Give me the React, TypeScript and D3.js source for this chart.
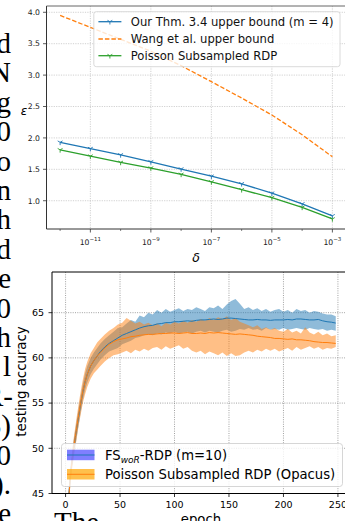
import React from "react";
import * as d3 from "d3";

// ---- top chart: epsilon vs delta ----
const deltas = [1e-12, 1e-11, 1e-10, 1e-9, 1e-8, 1e-7, 1e-6, 1e-5, 1e-4, 1e-3];
const thmBound = [1.93, 1.83, 1.73, 1.62, 1.505, 1.39, 1.27, 1.12, 0.95, 0.76];
const wangBound = [3.95, 3.76, 3.57, 3.38, 3.15, 2.895, 2.635, 2.365, 2.05, 1.7];
const poissonRdp = [1.81, 1.71, 1.61, 1.52, 1.42, 1.3, 1.175, 1.05, 0.895, 0.71];
const deltaExps = [-11, -9, -7, -5, -3];
const deltaMinorExps = [-12, -10, -8, -6, -4];
const epsTicks = [1.0, 1.5, 2.0, 2.5, 3.0, 3.5, 4.0];
const topLegend = [
  "Our Thm. 3.4 upper bound (m = 4)",
  "Wang et al. upper bound",
  "Poisson Subsampled RDP",
];

// ---- bottom chart: testing accuracy vs epoch ----
const epochs = [
  0, 1, 2, 3, 4, 5, 6, 7, 8, 9, 10, 12, 14, 16, 18, 20, 23, 26, 29, 32, 36, 40, 44, 48,
  52, 56, 60, 64, 68, 72, 76, 80, 84, 88, 92, 96, 100, 104, 108, 112, 116, 120, 124, 128,
  132, 136, 140, 144, 148, 152, 156, 160, 164, 168, 172, 176, 180, 184, 188, 192, 196, 200,
  204, 208, 212, 216, 220, 224, 228, 232, 236, 240, 244, 248,
];
const fsMean = [
  34.0, 38.0, 41.6, 44.8, 46.3, 47.6, 48.7, 49.6, 50.4, 51.2, 52.0, 53.5, 55.0, 56.3, 57.4, 58.2, 59.1, 59.7, 60.2, 60.7, 61.2, 61.6, 61.9, 62.2,
  62.5, 62.7, 62.9, 63.1, 63.3, 63.45, 63.55, 63.6, 63.75, 63.8,
  63.9, 63.9, 64.0, 64.0, 64.05, 64.1, 64.05, 64.15, 64.2, 64.2,
  64.25, 64.3, 64.25, 64.3, 64.4, 64.4, 64.35, 64.3, 64.25, 64.2,
  64.2, 64.25, 64.2, 64.2, 64.15, 64.2, 64.2, 64.2, 64.25, 64.2,
  64.3, 64.3, 64.25, 64.2, 64.2, 64.25, 64.1, 64.0, 63.95, 63.85,
];
const fsHi = [
  34.8, 38.8, 42.4, 45.6, 47.1, 48.4, 49.5, 50.5, 51.3, 52.1, 52.9, 54.4, 55.9, 57.2, 58.3, 59.1, 60.0, 60.6, 61.1, 61.6, 62.1, 62.5, 62.9, 63.3,
  63.4, 63.8, 64.2, 64.0, 64.7, 64.5, 65.0, 64.8, 65.3, 65.0,
  65.4, 65.1, 65.3, 65.5, 65.2, 65.4, 65.3, 65.6, 65.4, 65.2,
  65.6, 65.5, 65.8, 65.4, 65.9, 66.3, 66.5, 66.0, 65.4, 65.6,
  65.3, 65.5, 65.2, 65.4, 65.1, 65.3, 65.4, 65.1, 65.3, 65.0,
  65.4, 65.2, 65.3, 65.0, 65.2, 65.1, 64.9, 64.8, 64.8, 64.6,
];
const fsLo = [
  33.2, 37.2, 40.8, 44.0, 45.5, 46.8, 47.9, 48.7, 49.5, 50.3, 51.1, 52.6, 54.1, 55.4, 56.5, 57.3, 58.2, 58.8, 59.3, 59.8, 60.3, 60.7, 60.9, 61.1,
  61.5, 61.7, 61.9, 62.2, 62.3, 62.5, 62.6, 62.5, 62.7, 62.6,
  62.8, 62.7, 62.9, 62.7, 62.8, 62.9, 62.7, 62.9, 63.0, 62.8,
  63.0, 62.9, 62.8, 63.0, 63.1, 62.9, 63.0, 63.2, 63.1, 63.3,
  63.1, 63.2, 63.0, 63.3, 63.1, 63.2, 63.1, 63.3, 63.1, 63.2,
  63.3, 63.2, 63.1, 63.3, 63.2, 63.1, 63.2, 63.0, 63.1, 63.0,
];
const poMean = [
  34.5, 38.3, 41.8, 44.6, 46.2, 47.5, 48.7, 49.6, 50.5, 51.3, 52.1, 53.7, 55.1, 56.4, 57.4, 58.2, 59.1, 59.7, 60.2, 60.6, 61.1, 61.5, 61.8, 62.0,
  62.1, 62.2, 62.35, 62.4, 62.5, 62.55, 62.6, 62.6, 62.65, 62.7,
  62.7, 62.75, 62.75, 62.7, 62.75, 62.8, 62.7, 62.7, 62.75, 62.7,
  62.8, 62.75, 62.8, 62.75, 62.7, 62.65, 62.6, 62.65, 62.6, 62.55,
  62.5, 62.4, 62.35, 62.3, 62.25, 62.15, 62.15, 62.1, 62.05, 62.1,
  62.0, 62.0, 61.95, 61.9, 61.8, 61.75, 61.7, 61.7, 61.65, 61.6,
];
const poHi = [
  35.3, 39.2, 42.7, 45.5, 47.1, 48.5, 49.7, 50.7, 51.6, 52.4, 53.3, 54.9, 56.4, 57.7, 58.8, 59.6, 60.5, 61.1, 61.7, 62.1, 62.6, 63.0, 63.3, 63.7,
  63.9, 64.4, 64.1, 63.8, 64.0, 63.7, 63.9, 63.6, 63.8, 63.5,
  63.9, 63.7, 64.0, 63.8, 64.1, 63.9, 64.2, 64.0, 64.3, 64.1,
  64.4, 64.2, 64.5, 64.3, 64.6, 64.2, 64.4, 64.0, 63.8, 63.6,
  63.4, 63.6, 63.2, 63.4, 63.1, 63.3, 63.0, 62.9, 63.2, 62.8,
  63.0, 62.7, 63.4, 62.8, 62.6, 62.9, 62.5, 62.7, 62.4, 62.5,
];
const poLo = [
  33.7, 37.4, 40.9, 43.7, 45.3, 46.5, 47.7, 48.5, 49.4, 50.2, 50.9, 52.5, 53.8, 55.1, 56.0, 56.8, 57.7, 58.3, 58.7, 59.1, 59.6, 60.0, 60.3, 60.4,
  60.6, 60.8, 60.5, 60.9, 60.7, 61.0, 60.8, 61.1, 61.2, 60.9,
  61.3, 61.0, 61.2, 61.4, 61.0, 61.2, 60.8, 60.6, 60.8, 60.4,
  60.7, 60.5, 60.3, 60.6, 60.2, 60.5, 60.2, 60.3, 60.6, 60.8,
  60.6, 60.9, 60.7, 61.0, 60.8, 61.0, 60.7, 60.9, 61.1, 60.8,
  61.2, 60.9, 61.1, 61.3, 61.0, 61.2, 60.9, 61.1, 61.0, 61.2,
];
const epochTicks = [0, 50, 100, 150, 200, 250];
const accTicks = [45, 50, 55, 60, 65];

// right-hand ends of the paper's text lines, cut by the page edge
const sideText = ["d", "N", "g", "0", "o", "n", "h", "d", "e", "0", "h", "l", "R-", ")", "0", ").", "e"];

const SANS = "DejaVu Sans";
const BLUE = "#1f77b4";
const ORANGE = "#ff7f0e";
const GREEN = "#2ca02c";

const triDown = (r: number) =>
  `M0,0L0,${r}M0,0L${-0.866 * r},${-0.5 * r}M0,0L${0.866 * r},${-0.5 * r}`;

const TopChart = () => {
  const x = d3.scaleLog().domain([10 ** -12.45, 10 ** -2.55]).range([46.5, 346]);
  const y = d3.scaleLinear().domain([0.55, 4.1]).range([229, 6]);
  const line = d3
    .line<number>()
    .x((_, i) => x(deltas[i]))
    .y((v) => y(v));
  const series = [
    { vals: thmBound, color: BLUE, dash: null, marker: true },
    { vals: wangBound, color: ORANGE, dash: "4.5,2", marker: false },
    { vals: poissonRdp, color: GREEN, dash: null, marker: true },
  ];
  const legendY = [21.7, 39, 55.7];
  return (
    <g fontFamily={SANS}>
      <defs>
        <clipPath id="clipTop">
          <rect x={46.5} y={6} width={300} height={223} />
        </clipPath>
      </defs>
      {/* grid */}
      {deltaExps.map((e) => (
        <line key={"gx" + e} x1={x(10 ** e)} x2={x(10 ** e)} y1={6} y2={229}
          stroke="#bdbdbd" strokeWidth={0.7} strokeDasharray="1.2,1.2" />
      ))}
      {epsTicks.map((t) => (
        <line key={"gy" + t} x1={46.5} x2={346} y1={y(t)} y2={y(t)}
          stroke="#bdbdbd" strokeWidth={0.7} strokeDasharray="1.2,1.2" />
      ))}
      {/* lines */}
      <g clipPath="url(#clipTop)">
        {series.map((s, k) => (
          <g key={k}>
            <path d={line(s.vals) || ""} fill="none" stroke={s.color} strokeWidth={1.3}
              strokeDasharray={s.dash || undefined} />
            {s.marker &&
              s.vals.map((v, i) => (
                <path key={i} d={triDown(2.8)} transform={`translate(${x(deltas[i])},${y(v)})`}
                  stroke={s.color} strokeWidth={0.9} fill="none" />
              ))}
          </g>
        ))}
      </g>
      {/* spines */}
      <line x1={46.5} x2={46.5} y1={6} y2={229} stroke="#333" strokeWidth={1} />
      <line x1={46.5} x2={346} y1={229} y2={229} stroke="#333" strokeWidth={1} />
      <line x1={46.5} x2={346} y1={6} y2={6} stroke="#555" strokeWidth={0.9} />
      {/* x ticks */}
      {deltaExps.map((e) => (
        <g key={"tx" + e}>
          <line x1={x(10 ** e)} x2={x(10 ** e)} y1={229} y2={232.5} stroke="#333" strokeWidth={0.8} />
          <text x={x(10 ** e)} y={245} textAnchor="middle" fontSize={7.7} fill="#222">
            10<tspan dy={-4.3} fontSize={5.5}>{"\u2212" + Math.abs(e)}</tspan>
          </text>
        </g>
      ))}
      {deltaMinorExps.map((e) => (
        <line key={"mx" + e} x1={x(10 ** e)} x2={x(10 ** e)} y1={229} y2={231} stroke="#333" strokeWidth={0.6} />
      ))}
      {/* y ticks */}
      {epsTicks.map((t) => (
        <g key={"ty" + t}>
          <line x1={43} x2={46.5} y1={y(t)} y2={y(t)} stroke="#333" strokeWidth={0.8} />
          <text x={40} y={y(t) + 2.8} textAnchor="end" fontSize={7.7} fill="#222">
            {t.toFixed(1)}
          </text>
        </g>
      ))}
      <text x={24} y={115} textAnchor="middle" fontSize={12} fontStyle="italic">ε</text>
      <text x={196} y={262} textAnchor="middle" fontSize={12.5} fontStyle="italic">δ</text>
      {/* legend */}
      <rect x={93.8} y={11.7} width={246.2} height={55} rx={2.5} fill="white" fillOpacity={0.8}
        stroke="#d0d0d0" strokeWidth={0.8} />
      {series.map((s, k) => (
        <g key={"lg" + k}>
          <line x1={98.4} x2={121.4} y1={legendY[k]} y2={legendY[k]} stroke={s.color} strokeWidth={1.3}
            strokeDasharray={s.dash || undefined} />
          {s.marker && (
            <path d={triDown(2.8)} transform={`translate(109.9,${legendY[k]})`} stroke={s.color}
              strokeWidth={0.9} fill="none" />
          )}
          <text x={130.8} y={legendY[k] + 4.2} fontSize={11.6} fill="#111">{topLegend[k]}</text>
        </g>
      ))}
    </g>
  );
};

const BottomChart = () => {
  const x = d3.scaleLinear().domain([-12.45, 262]).range([52, 351]);
  const y = d3.scaleLinear().domain([45, 69.5]).range([493.5, 272]);
  const band = (lo: number[], hi: number[]) =>
    d3
      .area<number>()
      .x((_, i) => x(epochs[i]))
      .y0((_, i) => y(lo[i]))
      .y1((_, i) => y(hi[i]))(epochs) || "";
  const line = d3
    .line<number>()
    .x((_, i) => x(epochs[i]))
    .y((v) => y(v));
  return (
    <g fontFamily={SANS}>
      <defs>
        <clipPath id="clipBot">
          <rect x={52} y={272} width={300} height={221.5} />
        </clipPath>
      </defs>
      {epochTicks.map((t) => (
        <line key={"gx" + t} x1={x(t)} x2={x(t)} y1={272} y2={493.5}
          stroke="#8a8a8a" strokeWidth={0.8} strokeDasharray="1,1.3" />
      ))}
      {accTicks.map((t) => (
        <line key={"gy" + t} x1={52} x2={346} y1={y(t)} y2={y(t)}
          stroke="#8a8a8a" strokeWidth={0.8} strokeDasharray="1,1.3" />
      ))}
      <g clipPath="url(#clipBot)">
        <path d={band(fsLo, fsHi)} fill={BLUE} fillOpacity={0.5} />
        <path d={band(poLo, poHi)} fill={ORANGE} fillOpacity={0.5} />
        <path d={line(fsMean) || ""} fill="none" stroke={BLUE} strokeWidth={1} />
        <path d={line(poMean) || ""} fill="none" stroke={ORANGE} strokeWidth={1} />
      </g>
      <line x1={52} x2={52} y1={272} y2={493.5} stroke="#000" strokeWidth={1} />
      <line x1={52} x2={346} y1={493.5} y2={493.5} stroke="#000" strokeWidth={1} />
      <line x1={52} x2={346} y1={272} y2={272} stroke="#000" strokeWidth={1} />
      {epochTicks.map((t) => (
        <g key={"tx" + t}>
          <line x1={x(t)} x2={x(t)} y1={493.5} y2={497} stroke="#000" strokeWidth={0.8} />
          <text x={x(t)} y={508} textAnchor="middle" fontSize={9.5}>{t}</text>
        </g>
      ))}
      {accTicks.map((t) => (
        <g key={"ty" + t}>
          <line x1={48.5} x2={52} y1={y(t)} y2={y(t)} stroke="#000" strokeWidth={0.8} />
          <text x={44} y={y(t) + 3.4} textAnchor="end" fontSize={9.5}>{t}</text>
        </g>
      ))}
      <text transform="translate(26,381.5) rotate(-90)" textAnchor="middle" fontSize={13.3}>
        testing accuracy
      </text>
      <text x={201} y={524} textAnchor="middle" fontSize={13.3}>epoch</text>
      {/* legend */}
      <rect x={61.5} y={443.5} width={281} height={43} rx={3} fill="white" fillOpacity={0.8}
        stroke="#cccccc" strokeWidth={0.8} />
      <rect x={67} y={449.7} width={27.5} height={10.5} fill="blue" fillOpacity={0.5} />
      <line x1={67} x2={94.5} y1={455} y2={455} stroke={BLUE} strokeWidth={1} />
      <text x={105} y={459.8} fontSize={13.2}>
        FS<tspan fontSize={9} fontStyle="italic" dy={3}>woR</tspan>
        <tspan dy={-3}>-RDP (m=10)</tspan>
      </text>
      <rect x={67} y={469} width={27.5} height={10.5} fill="orange" fillOpacity={0.7} />
      <line x1={67} x2={94.5} y1={474.3} y2={474.3} stroke={ORANGE} strokeWidth={1} />
      <text x={105} y={479.1} fontSize={13.2}>Poisson Subsampled RDP (Opacus)</text>
    </g>
  );
};

const SideText = () => (
  <g fontFamily="Liberation Serif" fontSize={29} fill="#000">
    {sideText.map((s, k) =>
      s === ")" ? (
        <text key={k} x={11} y={53 + 29.4 * k} textAnchor="end">
          <tspan fill="#0000ee">3</tspan>)
        </text>
      ) : (
        <text key={k} x={s === "R-" ? 13 : 11} y={53 + 29.4 * k} textAnchor="end">{s}</text>
      )
    )}
    <text x={54} y={532}>The</text>
  </g>
);

export default function App() {
  return (
    <svg width={345} height={521} style={{ position: "absolute", left: 0, top: 0, background: "#fff" }}>
      <rect width={345} height={521} fill="#fff" />
      <SideText />
      <TopChart />
      <BottomChart />
    </svg>
  );
}
